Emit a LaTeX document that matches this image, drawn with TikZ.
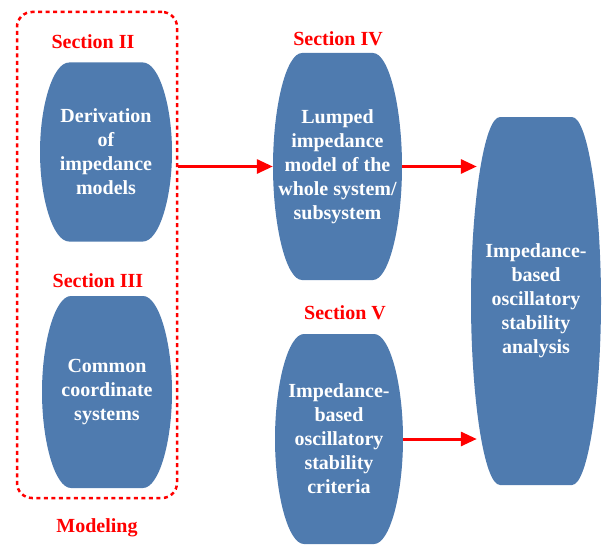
\documentclass[tikz,border=0pt]{standalone}
\usepackage{fontspec}
\setmainfont{Liberation Serif}
\usetikzlibrary{calc,arrows.meta}

\definecolor{blockblue}{HTML}{4F7BAF}
\definecolor{secred}{HTML}{FF0000}

\def\pb{path picture bounding box}

\tikzset{
	barrel/.style={shape=rectangle, inner sep=0pt, text=white, align=center,
		font=\fontsize{20}{24}\selectfont\bfseries,
		path picture={
			\fill[blockblue]
			($(\pb.north west)+(29pt,0)$) -- ($(\pb.north east)+(-29pt,0)$)
			.. controls ($(\pb.north east)+(-13pt,0)$) and ($(\pb.north east)!0.24!(\pb.south east)$) .. (\pb.east)
			.. controls ($(\pb.south east)!0.24!(\pb.north east)$) and ($(\pb.south east)+(-13pt,0)$) .. ($(\pb.south east)+(-29pt,0)$)
			-- ($(\pb.south west)+(29pt,0)$)
			.. controls ($(\pb.south west)+(13pt,0)$) and ($(\pb.south west)!0.24!(\pb.north west)$) .. (\pb.west)
			.. controls ($(\pb.north west)!0.24!(\pb.south west)$) and ($(\pb.north west)+(13pt,0)$) .. cycle;
		}},
	seclabel/.style={text=secred, font=\fontsize{20}{24}\selectfont\bfseries},
	flow/.style={draw=secred, line width=3pt, -{Triangle[length=16pt,width=14pt]}}
}

\begin{document}
\begin{tikzpicture}[x=1pt, y=-1pt]
	\useasboundingbox (0,0) rectangle (602,551);
	
	% Define blocks
	\node[barrel, minimum width=132pt, minimum height=179pt] (deriv) at (106,152) {Derivation\\of\\impedance\\models};
	\node[barrel, minimum width=130pt, minimum height=192pt] (coord) at (107,392) {Common\\coordinate\\systems};
	\node[barrel, minimum width=129pt, minimum height=227pt] (lumped) at (337.5,166.5) {Lumped\\impedance\\model of the\\whole system/\\subsystem};
	\node[barrel, minimum width=128pt, minimum height=210pt] (criteria) at (339,439) {Impedance-\\based\\oscillatory\\stability\\criteria};
	\node[barrel, minimum width=130pt, minimum height=368pt] (analysis) at (536,301) {Impedance-\\based\\oscillatory\\stability\\analysis};
	
	% Dashed frame round the modeling part
	\node[draw=secred, line width=2.5pt, dash pattern=on 4pt off 3.5pt, rounded corners=15pt,
		minimum width=160pt, minimum height=486pt] (modelbox) at (97,255) {};
	
	% Section labels
	\node[seclabel] (secII) at (93,42) {Section II};
	\node[seclabel] (secIII) at (98,281) {Section III};
	\node[seclabel] (secIV) at (338,39) {Section IV};
	\node[seclabel] (secV) at (345,313) {Section V};
	\node[seclabel] (modeling) at (97,528) {Modeling};
	
	% Arrows between blocks
	\draw[flow] (modelbox.east |- lumped.west) -- (lumped.west);
	\draw[flow, shorten >=-6pt] (lumped.east) -- (lumped.east -| analysis.west);
	\draw[flow, shorten >=-6pt] (criteria.east) -- (criteria.east -| analysis.west);
	
\end{tikzpicture}
\end{document}
